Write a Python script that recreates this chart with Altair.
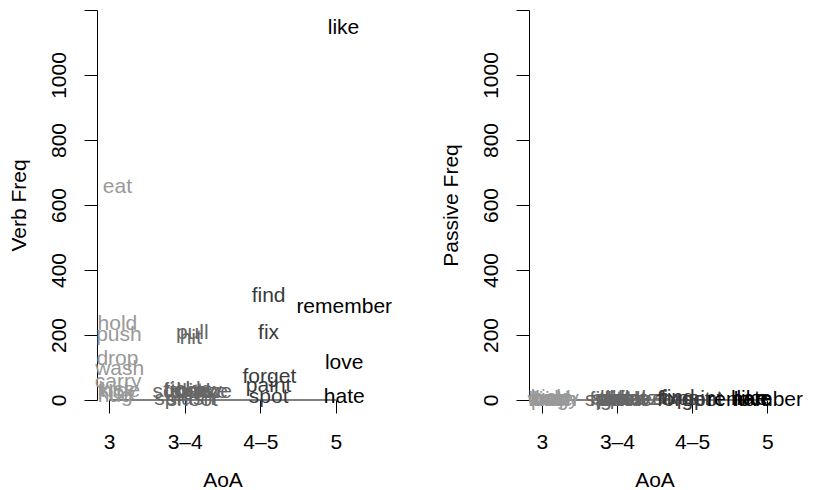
import altair as alt
import pandas as pd

# ---- data ----
groups = ["3", "3–4", "4–5", "5"]
tick_labels = ["3", "3–4", "4–5", "5"]
y_ticks = [0, 200, 400, 600, 800, 1000, 1200]
gray_levels = ["#999999", "#666666", "#3a3a3a", "#000000"]

words = ["eat", "hold", "push", "drop", "wash", "carry", "kiss", "hide", "kick", "hug",
         "pull", "hit", "fight", "tickle", "bite", "shake", "throw", "splash", "squeeze", "shoot",
         "find", "fix", "forget", "paint", "spot",
         "like", "remember", "love", "hate"]
aoa = ["3"] * 10 + ["3–4"] * 10 + ["4–5"] * 5 + ["5"] * 4
verb_x = [1.11, 1.11, 1.13, 1.11, 1.14, 1.12, 1.10, 1.15, 1.09, 1.08,
          2.10, 2.08, 1.98, 2.05, 2.12, 2.20, 2.15, 2.00, 2.10, 2.10,
          3.11, 3.11, 3.12, 3.11, 3.11,
          4.10, 4.11, 4.11, 4.11]
verb_freq = [655, 234, 200, 126, 96, 55, 30, 28, 22, 12,
             205, 192, 28, 30, 26, 25, 28, 2, 24, 0,
             320, 206, 71, 43, 9,
             1145, 286, 114, 9]
pass_x = [1.08, 1.12, 1.16, 1.10, 1.14, 1.18, 1.06, 1.15, 1.09, 1.12,
          1.95, 2.05, 1.90, 2.15, 2.00, 2.25, 2.10, 1.98, 2.20, 2.05,
          2.81, 2.68, 2.89, 3.10, 3.15,
          3.80, 3.84, 3.81, 3.79]
pass_freq = [4, 2, 1, 3, 0, 2, 1, 0, 5, 1,
             3, 2, 1, 0, 2, 4, 1, 0, 2, 3,
             5, 3, 1, 2, 0,
             2, 0, 1, 3]

df = pd.DataFrame({
    "word": words, "AoA": aoa,
    "vx": verb_x, "verb": verb_freq,
    "px": pass_x, "passive": pass_freq,
})
axis_line = pd.DataFrame({"x": [1], "x2": [4], "y": [0]})

FONT = "Liberation Sans"
FS = 21
label_expr = "[" + ",".join("'" + t + "'" for t in tick_labels) + "][datum.value - 1]"


def panel(xcol, ycol, ytitle, xdom):
    xscale = alt.Scale(domain=xdom, nice=False, zero=False)
    yscale = alt.Scale(domain=[0, 1200], nice=False, zero=False)
    xaxis = alt.Axis(values=[1, 2, 3, 4], labelExpr=label_expr, domain=False, grid=False,
                     tickSize=13, tickColor="black", labelPadding=18, labelFont=FONT,
                     labelFontSize=FS, labelColor="black", title="AoA", titleFont=FONT,
                     titleFontSize=FS, titleFontWeight="normal", titleColor="black",
                     titlePadding=17)
    yaxis = alt.Axis(values=y_ticks, format="d",
                     labelExpr="datum.value == 1200 ? '' : datum.label",
                     domain=True, domainColor="black", grid=False, tickSize=13,
                     tickColor="black", labelAngle=270, labelAlign="center",
                     labelBaseline="alphabetic", labelPadding=19, labelFont=FONT,
                     labelFontSize=FS, labelColor="black", title=ytitle, titleFont=FONT,
                     titleFontSize=FS, titleFontWeight="normal", titleColor="black",
                     titleAngle=270, titleAlign="center", titleBaseline="middle",
                     titleX=-77.5, titleY=195)
    texts = alt.Chart(df).mark_text(font=FONT, fontSize=FS, align="center",
                                    baseline="middle").encode(
        x=alt.X(xcol + ":Q", scale=xscale, axis=xaxis),
        y=alt.Y(ycol + ":Q", scale=yscale, axis=yaxis),
        text="word:N",
        color=alt.Color("AoA:N", scale=alt.Scale(domain=groups, range=gray_levels),
                        legend=None),
    )
    rule = alt.Chart(axis_line).mark_rule(color="black", strokeWidth=1).encode(
        x=alt.X("x:Q", scale=xscale, axis=xaxis),
        x2="x2:Q",
        y=alt.Y("y:Q", scale=yscale, axis=yaxis),
    )
    return alt.layer(rule, texts).properties(width=251, height=390)


left = panel("vx", "verb", "Verb Freq", [0.84, 4.16])
right = panel("px", "passive", "Passive Freq", [0.83, 4.17])

chart = alt.hconcat(left, right, spacing=47).properties(
    padding={"left": 0, "top": 1, "right": 0, "bottom": 0},
    background="white",
).configure_view(stroke=None)

chart.save("out.html", embed_options={"renderer": "svg", "actions": False})
